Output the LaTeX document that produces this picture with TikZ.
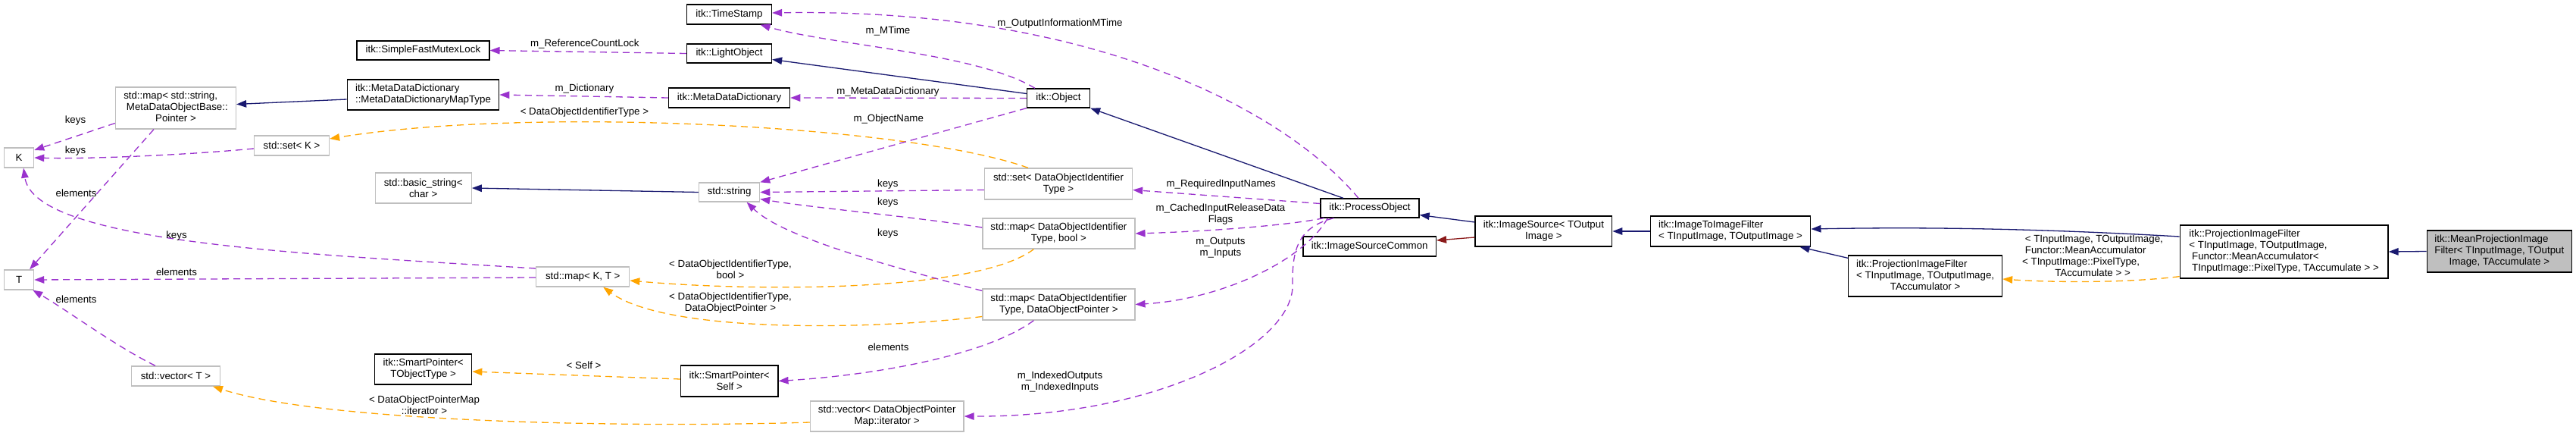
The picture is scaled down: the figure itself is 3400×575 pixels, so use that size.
\documentclass[tikz,border=0pt]{standalone}
\usepackage{fontspec}
\setmainfont{Liberation Sans}
\usetikzlibrary{arrows.meta}
\definecolor{cblue}{HTML}{191970}
\definecolor{cpurp}{HTML}{9A32CD}
\definecolor{corng}{HTML}{FFA500}
\definecolor{cred}{HTML}{8B1A1A}
\definecolor{cgray}{HTML}{BFBFBF}
\newcommand\dgf{\fontsize{13.3}{15}\selectfont}
\newcommand\mc[1]{\multicolumn{1}{@{}c@{}}{#1}}
\begin{document}
\begin{tikzpicture}[x=1pt,y=-1pt,
  every node/.style={font=\dgf, inner sep=0pt, align=center},
  doc/.style={draw=black, line width=1.3pt, fill=white},
  undoc/.style={draw=cgray, line width=1.3pt, fill=white},
  tip/.style={-{Triangle[length=13pt,width=9.5pt]}},
  inh/.style={draw=cblue, line width=1.3pt, tip},
  prot/.style={draw=cred, line width=1.3pt, tip},
  mem/.style={draw=cpurp, line width=1.3pt, dash pattern=on 9pt off 6pt, tip},
  tpl/.style={draw=corng, line width=1.3pt, dash pattern=on 9pt off 6pt, tip}]
\useasboundingbox (0,0) rectangle (3400,575);

% ---------- nodes ----------
\node[undoc, minimum width=39pt, minimum height=26pt] (K) at (25.1,208) {K};
\node[undoc, minimum width=39pt, minimum height=26pt] (T) at (25.1,369) {T};
\node[undoc, minimum width=159pt, minimum height=55pt] (mapSM) at (232,142.5)
  {\begin{tabular}{@{}l@{}}std::map< std::string,\\ \ MetaDataObjectBase::\\ \mc{Pointer >}\end{tabular}};
\node[undoc, minimum width=99pt, minimum height=26pt] (setK) at (385,192) {std::set< K >};
\node[doc, minimum width=175pt, minimum height=25pt] (sfml) at (558.4,66.5) {itk::SimpleFastMutexLock};
\node[doc, minimum width=200.5pt, minimum height=40pt] (mddmt) at (558.5,125)
  {\begin{tabular}{@{}l@{}}itk::MetaDataDictionary\\::MetaDataDictionaryMapType\end{tabular}};
\node[undoc, minimum width=127pt, minimum height=40pt] (bstr) at (558.7,248) {std::basic\_string<\\char >};
\node[doc, minimum width=128pt, minimum height=40pt] (spT) at (558.7,487) {itk::SmartPointer<\\TObjectType >};
\node[undoc, minimum width=116.5pt, minimum height=26pt] (vecT) at (232,496) {std::vector< T >};
\node[doc, minimum width=112pt, minimum height=26pt] (ts) at (962.5,19) {itk::TimeStamp};
\node[doc, minimum width=112pt, minimum height=25pt] (lo) at (962.5,70.5) {itk::LightObject};
\node[doc, minimum width=160pt, minimum height=26pt] (mdd) at (962.6,129) {itk::MetaDataDictionary};
\node[undoc, minimum width=80pt, minimum height=25pt] (str) at (962.6,253.5) {std::string};
\node[undoc, minimum width=123pt, minimum height=26pt] (mapKT) at (769.2,365) {std::map< K, T >};
\node[doc, minimum width=128.4pt, minimum height=41pt] (spS) at (962.7,502.5) {itk::SmartPointer<\\Self >};
\node[undoc, minimum width=202.6pt, minimum height=40pt] (veciter) at (1170.7,549) {std::vector< DataObjectPointer\\Map::iterator >};
\node[doc, minimum width=83pt, minimum height=25pt] (obj) at (1397,129.5) {itk::Object};
\node[undoc, minimum width=195pt, minimum height=41pt] (setD) at (1397,242.5) {std::set< DataObjectIdentifier\\Type >};
\node[undoc, minimum width=201pt, minimum height=40pt] (mapB) at (1397.4,308) {std::map< DataObjectIdentifier\\Type, bool >};
\node[undoc, minimum width=201pt, minimum height=41pt] (mapD) at (1397.4,401.5) {std::map< DataObjectIdentifier\\Type, DataObjectPointer >};
\node[doc, minimum width=130pt, minimum height=25pt] (po) at (1808,274.5) {itk::ProcessObject};
\node[doc, minimum width=175.4pt, minimum height=26pt] (isc) at (1807.7,325) {itk::ImageSourceCommon};
\node[doc, minimum width=180.6pt, minimum height=40pt] (is) at (2037.4,305) {itk::ImageSource< TOutput\\Image >};
\node[doc, minimum width=211.6pt, minimum height=40pt] (itif) at (2284,305)
  {\begin{tabular}{@{}l@{}}itk::ImageToImageFilter\\< TInputImage, TOutputImage >\end{tabular}};
\node[doc, minimum width=202.8pt, minimum height=54pt] (pif) at (2541.1,364)
  {\begin{tabular}{@{}l@{}}itk::ProjectionImageFilter\\< TInputImage, TOutputImage,\\ \mc{TAccumulator >}\end{tabular}};
\node[doc, minimum width=274.8pt, minimum height=70pt] (pifm) at (3014.6,332)
  {\begin{tabular}{@{}l@{}}itk::ProjectionImageFilter\\< TInputImage, TOutputImage,\\ \ Functor::MeanAccumulator<\\ \ TInputImage::PixelType, TAccumulate > >\end{tabular}};
\node[draw=black, line width=1.3pt, fill=cgray, minimum width=191pt, minimum height=55pt] (mpif) at (3298.8,331.5)
  {\begin{tabular}{@{}l@{}}itk::MeanProjectionImage\\Filter< TInputImage, TOutput\\ \mc{Image, TAccumulate >}\end{tabular}};

% ---------- edges ----------
\draw[inh] ([yshift=-6pt]mddmt.west) -- ([yshift=5pt]mapSM.east);
\draw[mem] ([yshift=-20pt]mapSM.west) -- ([yshift=10pt]K.east);
\draw[mem] ([yshift=-4pt]setK.west) .. controls (250,204) and (120,210) .. (K.east);
\draw[mem] ([xshift=-29pt]mapSM.south) -- ([xshift=14pt]T.north);
\draw[mem] ([yshift=11pt]mapKT.west) .. controls (400,335) and (45,320) .. ([xshift=6pt]K.south);
\draw[mem] ([yshift=-1pt]mapKT.west) -- (T.east);
\draw[mem] ([xshift=-27pt]vecT.north) .. controls (150,455) and (90,410) .. ([xshift=-2pt]T.south east);
\draw[tpl] ([xshift=-40pt]setD.north) .. controls (1200,165) and (700,140) .. ([yshift=9pt]setK.east);
\draw[tpl] ([xshift=-33pt]mapB.south) .. controls (1290,385) and (1000,385) .. ([yshift=-5pt]mapKT.east);
\draw[tpl] ([yshift=-16pt]mapD.west) .. controls (1150,435) and (880,440) .. ([xshift=27pt]mapKT.south);
\draw[inh] (str.west) -- (bstr.east);
\draw[tpl] ([yshift=2.5pt]spS.west) -- ([yshift=-3pt]spT.east);
\draw[tpl] ([yshift=-8pt]veciter.west) .. controls (800,565) and (420,555) .. ([xshift=49pt]vecT.south);
\draw[mem] (lo.west) -- (sfml.east);
\draw[mem] (mdd.west) -- (mddmt.east);
\draw[inh] ([yshift=6pt]obj.west) -- ([yshift=-8pt]lo.east);
\draw[mem] (obj.west) -- (mdd.east);
\draw[mem] ([xshift=-31pt]obj.north) .. controls (1290,70) and (1100,60) .. ([xshift=41pt]ts.south);
\draw[mem] ([xshift=-15pt]po.north) .. controls (1700,150) and (1450,10) .. ([yshift=2pt]ts.east);
\draw[mem] (obj.south west) -- (str.north east);
\draw[mem] ([yshift=-8pt]setD.west) -- (str.east);
\draw[mem] ([yshift=8pt]mapB.west) .. controls (1200,285) and (1080,275) .. ([yshift=-9pt]str.east);
\draw[mem] ([yshift=18pt]mapD.west) .. controls (1150,345) and (1030,310) .. ([xshift=23pt]str.south);
\draw[inh] ([xshift=-35pt]po.north) -- (obj.south east);
\draw[mem] ([yshift=6pt]po.west) -- ([yshift=-8pt]setD.east);
\draw[mem] ([xshift=5pt]po.south west) .. controls (1700,297) and (1600,305) .. (mapB.east);
\draw[mem] ([xshift=10pt]po.south west) .. controls (1720,345) and (1610,395) .. (mapD.east);
\draw[mem] ([xshift=18pt]po.south west) .. controls (1712,300) and (1705,330) .. (1706,380)
   .. controls (1700,460) and (1520,550) .. (veciter.east);
\draw[mem] ([xshift=-33pt]mapD.south) .. controls (1300,470) and (1150,495) .. (spS.east);
\draw[inh] ([yshift=12pt]is.west) -- ([yshift=-9pt]po.east);
\draw[prot] ([yshift=-8pt]is.west) -- ([yshift=8pt]isc.east);
\draw[inh] (itif.west) -- (is.east);
\draw[inh] ([yshift=-4pt]pif.north west) -- ([xshift=-15pt]itif.south east);
\draw[inh] ([yshift=20pt]pifm.west) .. controls (2700,302) and (2550,299) .. ([yshift=3pt]itif.east);
\draw[tpl] ([yshift=3pt]pifm.south west) .. controls (2800,374) and (2700,372) .. ([yshift=-4pt]pif.east);
\draw[inh] (mpif.west) -- (pifm.east);

% ---------- labels ----------
\node (l1) at (99.5,159) {keys};
\node (l2) at (99.5,199) {keys};
\node (l3) at (100.6,255) {elements};
\node (l4) at (233,311) {keys};
\node (l5) at (233,359) {elements};
\node (l6) at (100.6,395) {elements};
\node (l7) at (560,534) {< DataObjectPointerMap\\::iterator >};
\node (l8) at (770.5,482) {< Self >};
\node (l9) at (964,355.5) {< DataObjectIdentifierType,\\bool >};
\node (l10) at (964,399.5) {< DataObjectIdentifierType,\\DataObjectPointer >};
\node (l11) at (771.8,58) {m\_ReferenceCountLock};
\node (l12) at (771.4,117) {m\_Dictionary};
\node (l13) at (771.4,148) {< DataObjectIdentifierType >};
\node (l14) at (1172,121) {m\_MetaDataDictionary};
\node (l15) at (1172,41) {m\_MTime};
\node (l16) at (1399,31) {m\_OutputInformationMTime};
\node (l17) at (1172.7,157) {m\_ObjectName};
\node (l18) at (1171.8,243) {keys};
\node (l19) at (1171.8,267) {keys};
\node (l20) at (1171.8,308) {keys};
\node (l21) at (1172.5,458) {elements};
\node (l22) at (1399,503.5) {m\_IndexedOutputs\\m\_IndexedInputs};
\node (l23) at (1611.6,243) {m\_RequiredInputNames};
\node (l24) at (1611,283) {m\_CachedInputReleaseData\\Flags};
\node (l25) at (1610.9,326.5) {m\_Outputs\\m\_Inputs};
\node (l26) at (2762,339)
  {\begin{tabular}{@{}l@{}}\ < TInputImage, TOutputImage,\\ \ Functor::MeanAccumulator\\< TInputImage::PixelType,\\ \mc{TAccumulate > >}\end{tabular}};
\end{tikzpicture}
\end{document}
